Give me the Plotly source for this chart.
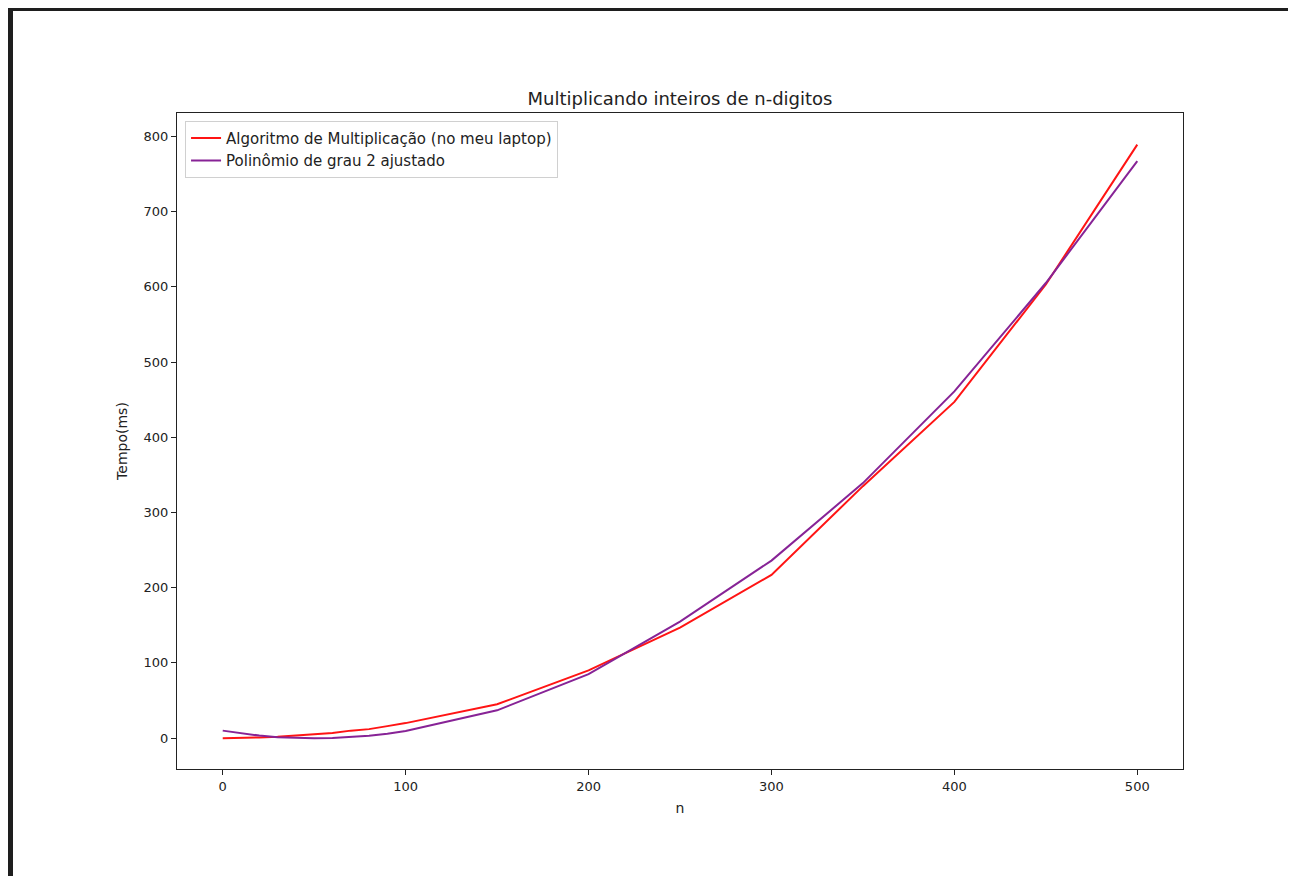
import plotly.graph_objects as go

n_vals = [0, 10, 20, 30, 40, 50, 60, 70, 80, 90, 100, 150, 200, 250, 300, 350, 400, 450, 500]
tempo_ms = [0, 0.3, 1, 2, 3.5, 5, 7, 10, 12, 16, 20, 45, 90, 147, 217, 335, 447, 603, 789]
ajuste = [10, 6.3, 3.4, 1.3, 0.3, -0.1, 0.2, 1.3, 3.2, 5.9, 9.5, 37, 85, 155, 236, 339, 461, 605, 767]

x_ticks = [0, 100, 200, 300, 400, 500]
y_ticks = [0, 100, 200, 300, 400, 500, 600, 700, 800]

fig = go.Figure()
fig.add_trace(go.Scatter(x=n_vals, y=tempo_ms, mode="lines",
                         name="Algoritmo de Multiplicação (no meu laptop)",
                         line=dict(color="rgb(255,20,20)", width=2)))
fig.add_trace(go.Scatter(x=n_vals, y=ajuste, mode="lines",
                         name="Polinômio de grau 2 ajustado",
                         line=dict(color="rgb(135,35,150)", width=2)))

# page offset of the plot div is 8px
W, H = 1288, 868
L, T = 169, 105
pw, ph = 1006, 656
R = W - L - pw
B = H - T - ph

def px(x):
    return (x - L) / pw

def py(y):
    return (H - B - y) / ph

shapes = [
    dict(type="rect", xref="paper", yref="paper", x0=px(0), x1=px(W), y0=py(3), y1=py(0),
         fillcolor="#1e1e1e", line=dict(width=0), layer="below"),
    dict(type="rect", xref="paper", yref="paper", x0=px(0), x1=px(5), y0=py(H), y1=py(0),
         fillcolor="#1e1e1e", line=dict(width=0), layer="below"),
]

font = "DejaVu Sans, sans-serif"
fig.update_layout(
    width=W, height=H,
    margin=dict(l=L, r=R, t=T, b=B, pad=0),
    paper_bgcolor="white", plot_bgcolor="white",
    font=dict(family=font, size=13, color="#222"),
    title=dict(text="Multiplicando inteiros de n-digitos", xref="paper", x=0.5, xanchor="center",
               yref="container", y=1 - 91 / H, yanchor="middle", font=dict(size=18, color="#222")),
    showlegend=True,
    legend=dict(x=0.008, y=0.988, xanchor="left", yanchor="top",
                bgcolor="rgba(255,255,255,0.8)", bordercolor="#d0d0d0", borderwidth=1,
                font=dict(size=15, color="#222"), tracegroupgap=0),
    shapes=shapes,
    xaxis=dict(range=[-25, 525], tickvals=x_ticks, showgrid=False, zeroline=False,
               showline=True, linecolor="#222", linewidth=1, mirror=True,
               ticks="outside", ticklen=5, tickcolor="#222",
               title=dict(text="n", font=dict(size=14), standoff=10)),
    yaxis=dict(range=[-41, 831], tickvals=y_ticks, showgrid=False, zeroline=False,
               showline=True, linecolor="#222", linewidth=1, mirror=True,
               ticks="outside", ticklen=5, tickcolor="#222",
               title=dict(text="Tempo(ms)", font=dict(size=14), standoff=12)),
)

fig.write_html("out.html")
